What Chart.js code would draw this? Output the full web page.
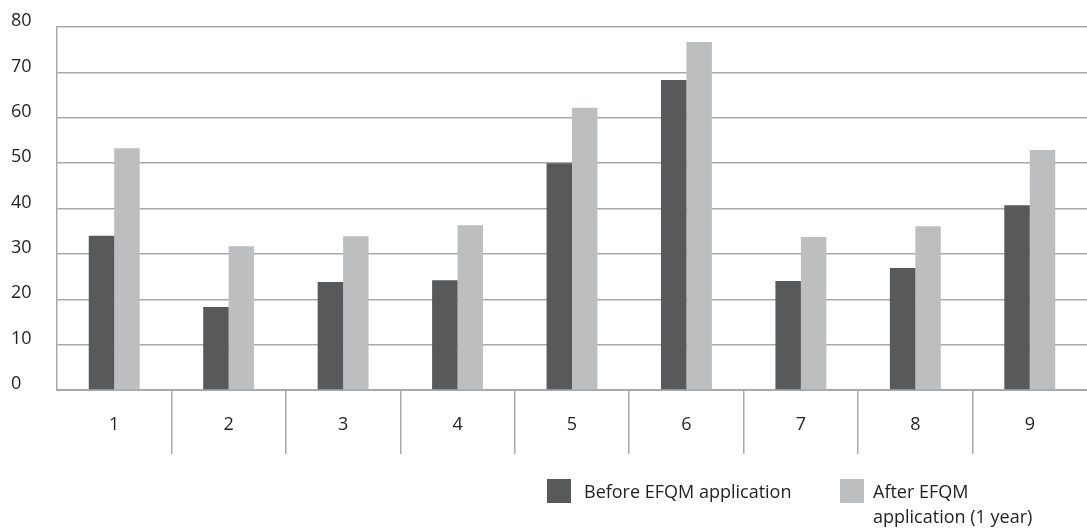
<!DOCTYPE html>
<html>
<head>
<meta charset="utf-8">
<script src="https://cdn.jsdelivr.net/npm/chart.js@4.4.1/dist/chart.umd.min.js"></script>
<style>
  body { margin: 0; background: #fff; }
  .wrap { position: relative; width: 1087px; height: 530px; font-family: "Open Sans", sans-serif; color: #231f20; }
  .key { position: absolute; width: 24px; height: 24px; }
  .lbl { position: absolute; font-size: 18px; line-height: 25px; white-space: nowrap; }
</style>
</head>
<body>
<div class="wrap">
  <canvas id="chart" width="1087" height="530"></canvas>
  <div class="key" style="left:547px; top:479px; background:#58595b"></div>
  <div class="lbl" id="lbl0" style="left:584px; top:479px"></div>
  <div class="key" style="left:840px; top:479px; background:#bcbec0"></div>
  <div class="lbl" id="lbl1" style="left:873px; top:479px"></div>
</div>
<script>
const categories = ['1', '2', '3', '4', '5', '6', '7', '8', '9'];
const beforeValues = [34, 18.3, 23.8, 24.2, 50, 68.3, 24, 26.9, 40.7];
const afterValues = [53.3, 31.7, 33.9, 36.3, 62.2, 76.7, 33.7, 36.1, 52.9];
const yTicks = [0, 10, 20, 30, 40, 50, 60, 70, 80];
const seriesNames = ['Before EFQM application', 'After EFQM application (1 year)'];

document.getElementById('lbl0').textContent = seriesNames[0];
document.getElementById('lbl1').innerHTML = 'After EFQM<br>application (1 year)';

const gridGray = '#a7a9ac';
const textColor = '#231f20';

const ctx = document.getElementById('chart').getContext('2d');
new Chart(ctx, {
  type: 'bar',
  data: {
    labels: categories,
    datasets: [
      { label: seriesNames[0], data: beforeValues, backgroundColor: '#58595b' },
      { label: seriesNames[1], data: afterValues, backgroundColor: '#bcbec0' },
    ],
  },
  options: {
    responsive: false,
    animation: false,
    layout: { padding: { top: 27, left: 11, right: 0, bottom: 0 } },
    datasets: { bar: { categoryPercentage: 0.445, barPercentage: 1 } },
    plugins: { legend: { display: false }, tooltip: { enabled: false } },
    scales: {
      x: {
        afterFit: (scale) => { scale.height = 140; },
        grid: {
          drawOnChartArea: false,
          tickLength: 64,
          lineWidth: 1.5,
          color: (c) => (c.type !== 'tick' || c.index === 0) ? 'rgba(0,0,0,0)' : gridGray,
        },
        border: { color: gridGray, width: 2 },
        ticks: {
          padding: -40,
          color: textColor,
          font: { family: 'Open Sans', size: 18 },
        },
      },
      y: {
        min: 0,
        max: 80,
        afterFit: (scale) => { scale.width = 46; },
        afterBuildTicks: (scale) => { scale.ticks = yTicks.map(v => ({ value: v })); },
        grid: { color: gridGray, lineWidth: 1.5, drawTicks: false },
        border: { color: gridGray, width: 1.5 },
        ticks: {
          crossAlign: 'far',
          labelOffset: -6,
          color: textColor,
          font: { family: 'Open Sans', size: 18 },
        },
      },
    },
  },
});
</script>
</body>
</html>
